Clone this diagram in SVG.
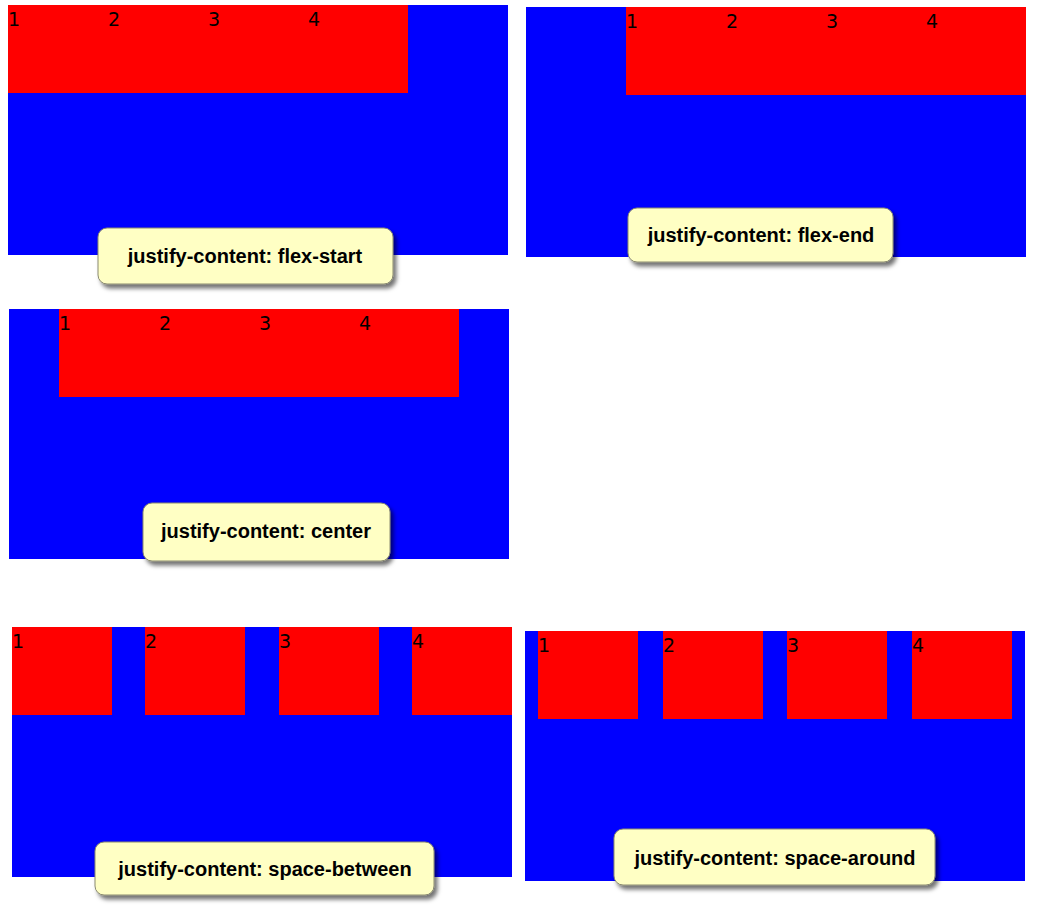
<svg xmlns="http://www.w3.org/2000/svg" width="1044" height="909" viewBox="0 0 1044 909">
<defs>
<filter id="sh" x="-10%" y="-20%" width="125%" height="150%">
<feDropShadow dx="3" dy="4" stdDeviation="2" flood-color="#000" flood-opacity="0.55"/>
</filter>
<style>
.c{fill:#0000ff}
.i{fill:#ff0000}
.n{font-family:"DejaVu Sans",Verdana,sans-serif;font-size:19px;fill:#000}
.lb{fill:#ffffc4;stroke:#8a8a70;stroke-width:1;filter:url(#sh)}
.lt{font-family:"Liberation Sans",Arial,sans-serif;font-size:20px;font-weight:bold;fill:#000;text-anchor:middle}
</style>
</defs>
<rect width="1044" height="909" fill="#fff"/>

<g id="flex-start">
<rect class="c" x="8" y="5" width="500" height="250"/>
<rect class="i" x="8" y="5" width="400" height="88"/>
<text class="n" x="8" y="26">1</text>
<text class="n" x="108" y="26">2</text>
<text class="n" x="208" y="26">3</text>
<text class="n" x="308" y="26">4</text>
<rect class="lb" x="98" y="228" width="295" height="56" rx="9"/>
<text class="lt" x="245" y="263">justify-content: flex-start</text>
</g>

<g id="flex-end">
<rect class="c" x="526" y="7" width="500" height="250"/>
<rect class="i" x="626" y="7" width="400" height="88"/>
<text class="n" x="626" y="28">1</text>
<text class="n" x="726" y="28">2</text>
<text class="n" x="826" y="28">3</text>
<text class="n" x="926" y="28">4</text>
<rect class="lb" x="628" y="208" width="265" height="54" rx="9"/>
<text class="lt" x="761" y="242">justify-content: flex-end</text>
</g>

<g id="center">
<rect class="c" x="9" y="309" width="500" height="250"/>
<rect class="i" x="59" y="309" width="400" height="88"/>
<text class="n" x="59" y="330">1</text>
<text class="n" x="159" y="330">2</text>
<text class="n" x="259" y="330">3</text>
<text class="n" x="359" y="330">4</text>
<rect class="lb" x="143" y="503" width="247" height="58" rx="9"/>
<text class="lt" x="266" y="538">justify-content: center</text>
</g>

<g id="space-between">
<rect class="c" x="12" y="627" width="500" height="250"/>
<rect class="i" x="12" y="627" width="100" height="88"/>
<rect class="i" x="145" y="627" width="100" height="88"/>
<rect class="i" x="279" y="627" width="100" height="88"/>
<rect class="i" x="412" y="627" width="100" height="88"/>
<text class="n" x="12" y="648">1</text>
<text class="n" x="145" y="648">2</text>
<text class="n" x="279" y="648">3</text>
<text class="n" x="412" y="648">4</text>
<rect class="lb" x="95" y="842" width="339" height="53" rx="9"/>
<text class="lt" x="265" y="876">justify-content: space-between</text>
</g>

<g id="space-around">
<rect class="c" x="525" y="631" width="500" height="250"/>
<rect class="i" x="538" y="631" width="100" height="88"/>
<rect class="i" x="663" y="631" width="100" height="88"/>
<rect class="i" x="787" y="631" width="100" height="88"/>
<rect class="i" x="912" y="631" width="100" height="88"/>
<text class="n" x="538" y="652">1</text>
<text class="n" x="663" y="652">2</text>
<text class="n" x="787" y="652">3</text>
<text class="n" x="912" y="652">4</text>
<rect class="lb" x="614" y="829" width="321" height="56" rx="9"/>
<text class="lt" x="775" y="865">justify-content: space-around</text>
</g>

<g id="connectors"/>
</svg>
